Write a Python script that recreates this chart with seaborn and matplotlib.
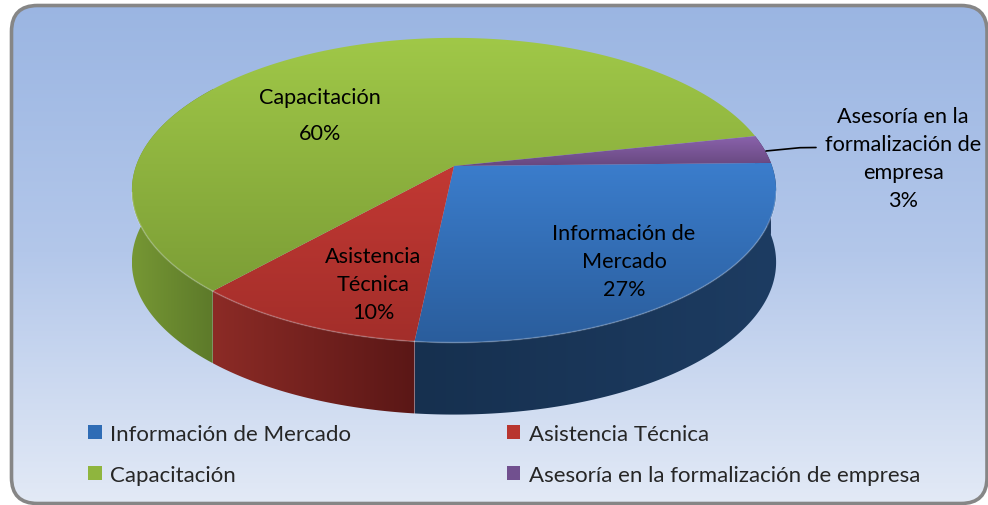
import numpy as np
import matplotlib
matplotlib.use("Agg")
import matplotlib.pyplot as plt
import seaborn as sns
from matplotlib.patches import FancyBboxPatch, Polygon, Patch

categories = ["Información de Mercado", "Asistencia Técnica", "Capacitación",
              "Asesoría en la formalización de empresa"]
values = [27, 10, 60, 3]
slice_labels = ["Información de\nMercado\n27%", "Asistencia\nTécnica\n10%",
                "Capacitación\n60%", "Asesoría en la\nformalización de\nempresa\n3%"]

top_colors = [("#3b7dcc", "#2a5d9c"), ("#c93b35", "#a32e2a"),
              ("#a0c848", "#7c9e36"), ("#8a62ac", "#67487f")]
side_colors = [("#16304f", "#1d3c62"), ("#8c2b26", "#5a1716"),
               ("#769734", "#5d7a2a"), ("#3d2a55", "#3d2a55")]
legend_colors = ["#2f6cb5", "#b8352f", "#8fb53e", "#71508f"]

sns.set_theme(style="white")
plt.rcParams["font.family"] = ["Lato", "DejaVu Sans"]

# pie centre and perspective of the tilted disc, in pixels
cx, cy = 454, 167
rx, ry, tilt = 318, 148.5, 0.159
depth = 72


def project(theta):
    t = np.radians(theta)
    w = 1 + tilt * np.sin(t)
    return cx + rx * np.cos(t) / w, cy - ry * np.sin(t) / w


def gradient(ax, colors, extent, clip, horizontal=False, zorder=2):
    cmap = sns.blend_palette(colors, as_cmap=True)
    g = np.linspace(0, 1, 256)
    g = g[None, :] if horizontal else g[:, None]
    im = ax.imshow(g, cmap=cmap, extent=extent, aspect="auto", zorder=zorder, vmin=0, vmax=1)
    im.set_clip_path(clip)
    return im


fig = plt.figure(figsize=(9.88, 5.06), dpi=100, facecolor="white")
ax = fig.add_axes([0, 0, 1, 1])

# panel with rounded border
panel = FancyBboxPatch((11.5, 6.5), 975.5, 498, boxstyle="round,pad=0,rounding_size=26",
                       facecolor="none", edgecolor="#868686", linewidth=2.6, zorder=1.5)
ax.add_patch(panel)
gradient(ax, ["#9ab5e2", "#b3c7ea", "#e3eaf6"], (0, 988, 506, 0), panel, zorder=1)

# the pie gives the slice angles, the disc is then projected from them
wedges, _ = ax.pie(values, startangle=1.2, counterclock=False, radius=1, center=(-5000, -5000))
spans = [(w.theta1, w.theta2) for w in wedges]

# back slices first so the front ribbons stay on top
for i in [2, 3, 1, 0]:
    t1, t2 = spans[i]
    th = np.linspace(t1, t2, 200)
    x, y = project(th)
    verts = np.r_[np.c_[x, y], np.c_[x, y + depth][::-1]]
    rib = Polygon(verts, closed=True, facecolor="none", edgecolor="none", zorder=2)
    ax.add_patch(rib)
    vis = y > cy + 24
    lo, hi = (x[vis].min(), x[vis].max()) if vis.any() else (x.min(), x.max())
    gradient(ax, side_colors[i], (lo, hi, 506, 0), rib, horizontal=True, zorder=2)

for (t1, t2), cols in zip(spans, top_colors):
    th = np.linspace(t1, t2, 200)
    x, y = project(th)
    verts = np.r_[[[cx, cy]], np.c_[x, y]]
    top = Polygon(verts, closed=True, facecolor="none", edgecolor="none", zorder=3)
    ax.add_patch(top)
    gradient(ax, cols, (100, 800, y.max() if y.max() > cy + 20 else cy, y.min() if y.min() < cy else cy - 40),
             top, zorder=3)
    # light rim along the front edge
    front = y > cy + 24
    if front.any():
        ax.plot(x[front], y[front], color="white", alpha=0.2, lw=1.2, zorder=4)

# slice labels
label_pos = [(624, 262), (373, 285), (320, 116), (903, 159)]
label_spacing = [1.52, 1.52, 2.0, 1.52]
for txt, (lx, ly), ls in zip(slice_labels, label_pos, label_spacing):
    ax.text(lx, ly, txt, ha="center", va="center", fontsize=15.6, color="black",
            linespacing=ls, zorder=6)
ax.plot([766, 800, 816], [152, 148.7, 148.5], color="black", lw=1.2, zorder=6)

# legend
handles = [Patch(facecolor=c, edgecolor="none") for c in legend_colors]
order = [0, 2, 1, 3]
ax.legend([handles[i] for i in order], [categories[i] for i in order], ncol=2,
          loc="upper left", bbox_to_anchor=(88 / 988, 1 - 425 / 506), frameon=False,
          fontsize=16, handlelength=0.62, handleheight=0.62, handletextpad=0.37,
          columnspacing=7.0, labelspacing=0.95, borderpad=0, borderaxespad=0)

ax.set_xlim(0, 988)
ax.set_ylim(506, 0)
ax.set_aspect("auto")
ax.axis("off")
fig.savefig("out.png", dpi=100, facecolor="white")
